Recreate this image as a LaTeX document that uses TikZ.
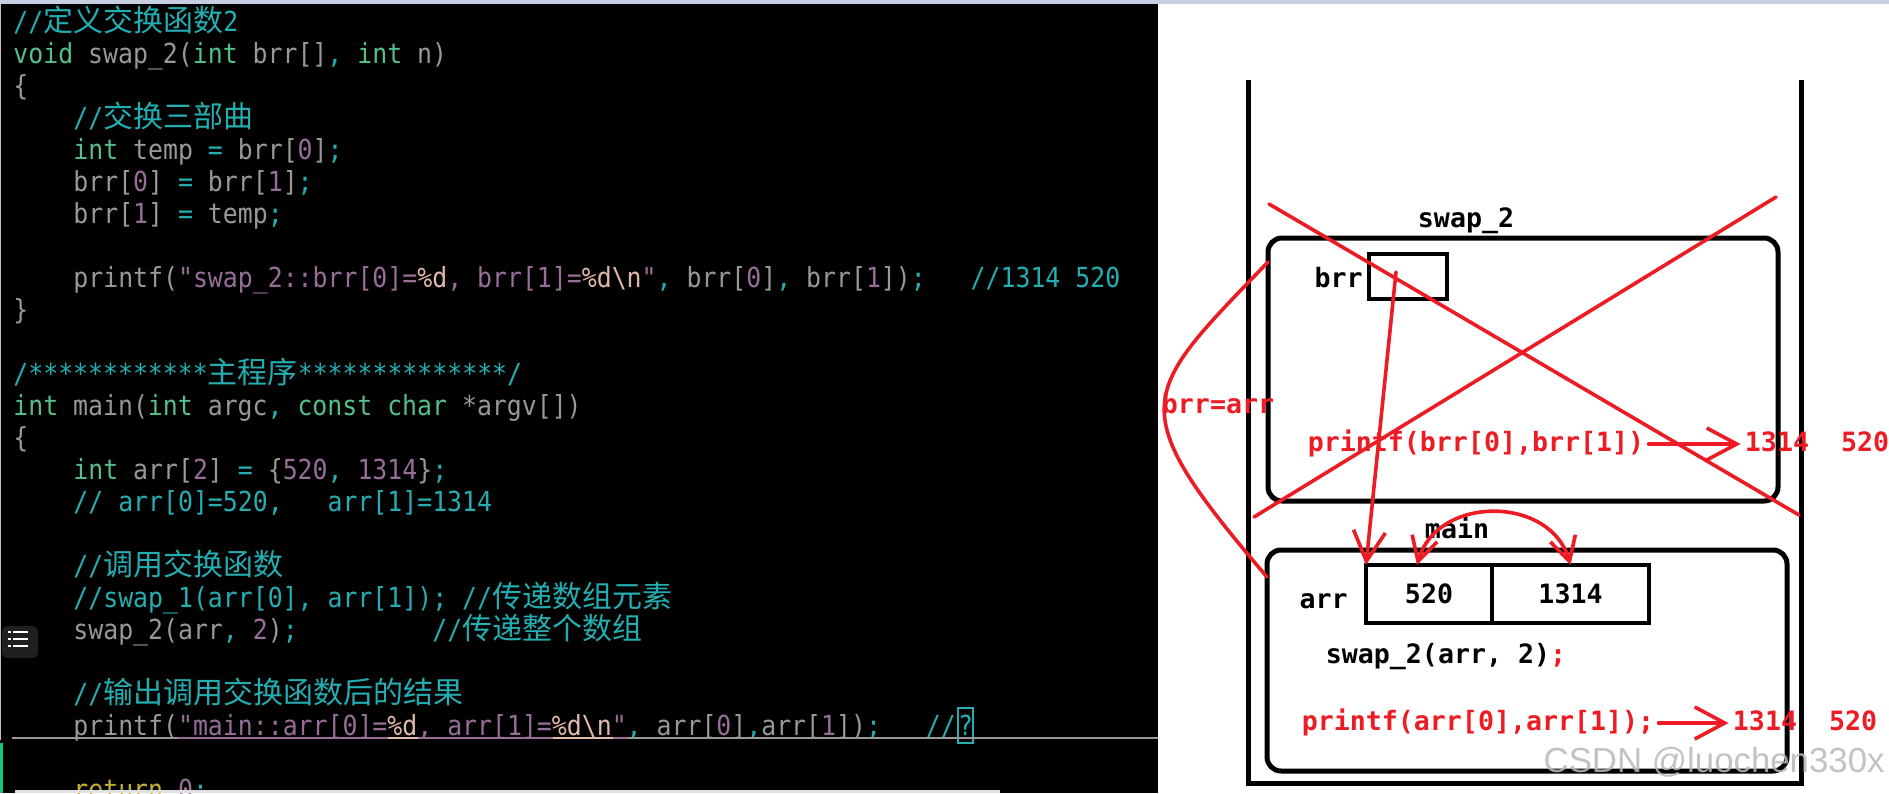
\documentclass[tikz,border=0pt]{standalone}
\usepackage{fontspec}
\usetikzlibrary{arrows.meta,positioning}
\newfontfamily\codefont{DejaVu Sans Mono}[FakeStretch=0.9]
\newfontfamily\cjk{Noto Sans CJK SC}[Scale=1.087]
\newfontfamily\pixfont{DejaVu Sans Mono}
\newfontfamily\markfont{Liberation Sans}
\frenchspacing

\definecolor{penred}{RGB}{237,28,36}
\definecolor{codegray}{RGB}{152,152,152}
\definecolor{codekw}{RGB}{84,192,136}
\definecolor{codecm}{RGB}{36,174,178}
\definecolor{codenum}{RGB}{152,110,152}
\definecolor{codeesc}{RGB}{226,186,172}
\definecolor{codeyl}{RGB}{196,176,48}
\definecolor{topband}{RGB}{197,207,225}
\definecolor{codegreen}{RGB}{20,200,120}

\newcommand{\ckw}[1]{\textcolor{codekw}{#1}}
\newcommand{\ccm}[1]{\textcolor{codecm}{#1}}
\newcommand{\cnm}[1]{\textcolor{codenum}{#1}}
\newcommand{\ces}[1]{\textcolor{codeesc}{#1}}
\newcommand{\cop}[1]{\textcolor{codecm}{#1}}

\begin{document}
\begin{tikzpicture}[
    x=0.5pt, y=-0.5pt,
    >=Latex,
    code/.style={anchor=base west, inner sep=0pt, text=codegray, font=\codefont\fontsize{13.8pt}{16pt}\selectfont},
    pix/.style={inner sep=2pt, text height=10pt, text depth=3pt, font=\pixfont\bfseries\fontsize{13.3pt}{15pt}\selectfont},
    redtxt/.style={pix, text=penred},
    frame/.style={draw, line width=2.5pt, rounded corners=7pt},
    stack/.style={draw, line width=2.5pt},
    box/.style={draw, line width=2pt},
    cell/.style={pix, draw, line width=2pt, outer sep=0pt, minimum height=29pt, text height=9pt, text depth=0pt},
    redline/.style={draw=penred, line width=1.8pt, line cap=round},
    redarrow/.style={redline, -{Straight Barb[length=15pt,width=16pt]}},
    redboth/.style={redline, {Straight Barb[length=12pt,width=13pt]}-{Straight Barb[length=12pt,width=13pt]}}
]
\useasboundingbox (0,0) rectangle (1889,793);
\fill[white] (0,0) rectangle (1889,793);
\fill[topband] (0,0) rectangle (1889,4);
\fill[black] (0,4) rectangle (1158,793);
\draw[black!25, line width=0.5pt] (0.5,4) -- (0.5,740);

% code panel
\node[code] (ln1) at (13,31) {\ccm{//{\cjk 定义交换函数}2}};
\node[code] (ln2) at (13,63) {\ckw{void} swap\_2(\ckw{int} brr[]\cop{,} \ckw{int} n)};
\node[code] (ln3) at (13,95) {\{};
\node[code] (ln4) at (73,127) {\ccm{//{\cjk 交换三部曲}}};
\node[code] (ln5) at (73,159) {\ckw{int} temp \cop{=} brr[\cnm{0}]\cop{;}};
\node[code] (ln6) at (73,191) {brr[\cnm{0}] \cop{=} brr[\cnm{1}]\cop{;}};
\node[code] (ln7) at (73,223) {brr[\cnm{1}] \cop{=} temp\cop{;}};
\node[code] (ln9) at (73,287) {printf(\cnm{"swap\_2::brr[0]=}\ces{\%d}\cnm{, brr[1]=}\ces{\%d\textbackslash n}\cnm{"}\cop{,} brr[\cnm{0}]\cop{,} brr[\cnm{1}])\cop{;}~~~\ccm{//1314 520}};
\node[code] (ln10) at (13,319) {\}};
\node[code] (ln12) at (13,383) {\ccm{/************{\cjk 主程序}**************/}};
\node[code] (ln13) at (13,415) {\ckw{int} main(\ckw{int} argc\cop{,} \ckw{const} \ckw{char} *argv[])};
\node[code] (ln14) at (13,447) {\{};
\node[code] (ln15) at (73,479) {\ckw{int} arr[\cnm{2}] \cop{=} \{\cnm{520}\cop{,} \cnm{1314}\}\cop{;}};
\node[code] (ln16) at (73,511) {\ccm{// arr[0]=520,~~~arr[1]=1314}};
\node[code] (ln18) at (73,575) {\ccm{//{\cjk 调用交换函数}}};
\node[code] (ln19) at (73,607) {\ccm{//swap\_1(arr[0], arr[1]); //{\cjk 传递数组元素}}};
\node[code] (ln20) at (73,639) {swap\_2(arr\cop{,} \cnm{2})\cop{;}~~~~~~~~~\ccm{//{\cjk 传递整个数组}}};
\node[code] (ln22) at (73,703) {\ccm{//{\cjk 输出调用交换函数后的结果}}};
\node[code] (ln23) at (73,735) {printf(\cnm{"main::arr[0]=}\ces{\%d}\cnm{, arr[1]=}\ces{\%d\textbackslash n}\cnm{"}\cop{,} arr[\cnm{0}]\cop{,}arr[\cnm{1}])\cop{;}~~~\ccm{//}};
\node[code] (ln25) at (73,799) {\textcolor{codeyl}{return} \cnm{0}\cop{;}};
\node[draw=codecm, line width=0.6pt, inner sep=0pt, minimum width=7.5pt, minimum height=17.5pt, text=codecm, font=\codefont\fontsize{13.8pt}{16pt}\selectfont] (cursor) at (965.5,725.5) {?};

% cursor line
\draw[codegray, line width=1pt] (12,738) -- (1158,738);
\draw[codenum, line width=1pt] (178,738) -- (628,738);
\draw[codeesc, line width=1pt] (388,738) -- (418,738) (553,738) -- (613,738);

% side icon, bars
\fill[black!88, rounded corners=3pt] (2,626) rectangle (38,658);
\foreach \yy in {632,639,646} {
  \fill[white] (8,\yy-1) rectangle (11,\yy+1);
  \fill[white] (13,\yy-1) rectangle (28,\yy+1);
}
\fill[codegreen] (0,743) rectangle (3,793);
\fill[black!12] (15,790) rectangle (1000,793);

% stack
\draw[stack] (1248,80) -- (1248,783) -- (1801,783) -- (1801,80);
\node[frame, minimum width=255pt, minimum height=131.5pt] (swapframe) at (1523,369.5) {};
\node[frame, minimum width=260pt, minimum height=110.5pt] (mainframe) at (1527,660.5) {};
\node[pix] (swaplbl) at (1466,220) {swap\_2};
\node[pix] (mainlbl) at (1457,531) {main};
\node[box, minimum width=39pt, minimum height=22.5pt] (brrbox) at (1408,276) {};
\node[pix, left=0pt of brrbox, yshift=-2pt] (brrlbl) {brr};
\node[cell, minimum width=63pt] (arr0) at (1429,594) {520};
\node[cell, minimum width=78.5pt, right=0pt of arr0] (arr1) {1314};
\node[pix, left=7pt of arr0, yshift=-3.5pt] (arrlbl) {arr};
\node[pix] (call) at (1446,656) {swap\_2(arr, 2)\textcolor{penred}{;}};

% red marks
\draw[redline] (1269,204) -- (1799,515);
\draw[redline] (1776,197) -- (1254,517);
\coordinate (bind1) at (1268,262);
\coordinate (bind2) at (1267,577);
\draw[redline] (bind1) .. controls (1140,395) and (1120,405) .. (bind2);
\node[redtxt] (bindlbl) at (1218,406) {brr=arr};
\draw[redarrow] ([xshift=-6pt,yshift=2pt]brrbox.center) -- (arr0.north west);
\draw[redboth] ([xshift=-6pt]arr0.north) .. controls +(20,-70) and +(-20,-70) .. (arr1.north);
\node[redtxt] (outswap) at (1476,444) {printf(brr[0],brr[1])};
\node[redtxt, right=46pt of outswap] (resswap) {1314~~520};
\draw[redarrow] (outswap) -- (resswap);
\node[redtxt] (outmain) at (1478,723) {printf(arr[0],arr[1]);};
\node[redtxt, right=35pt of outmain] (resmain) {1314~~520};
\draw[redarrow] (outmain) -- (resmain);

\node[anchor=base east, inner sep=0pt, text=black!28, opacity=0.85, font=\markfont\fontsize{17.4pt}{20pt}\selectfont] (mark) at (1885,772) {CSDN @luochen330x};
\end{tikzpicture}
\end{document}
